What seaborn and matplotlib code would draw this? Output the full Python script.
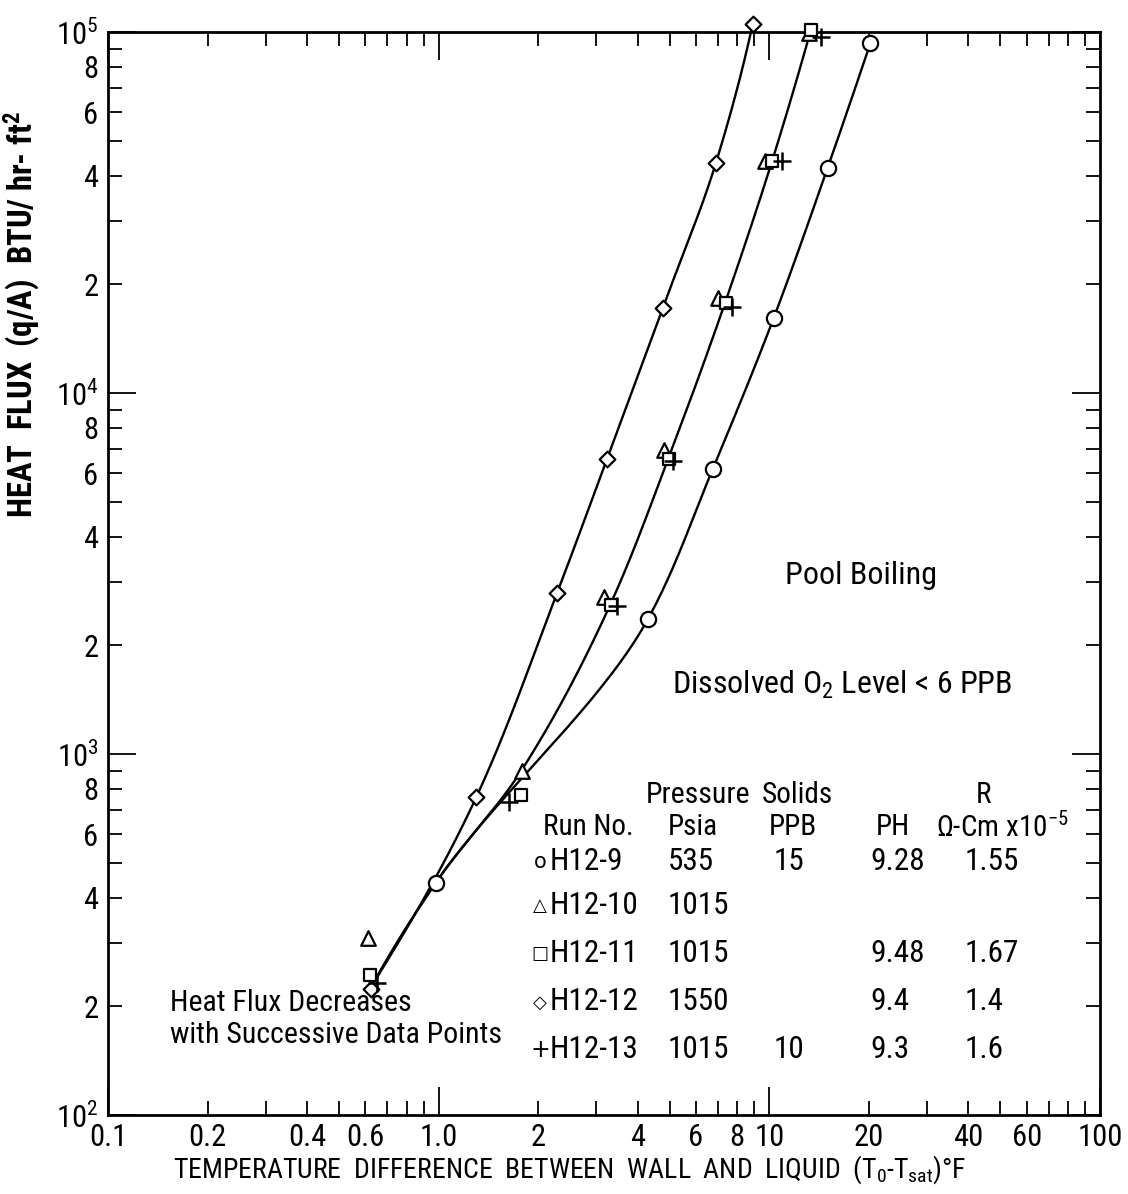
import numpy as np
import pandas as pd
import matplotlib
matplotlib.use("Agg")
import matplotlib.pyplot as plt
from matplotlib import font_manager as fm
import seaborn as sns
from matplotlib.ticker import FixedLocator, FuncFormatter

# ---- measured data: wall superheat dT (F) and heat flux q/A (BTU/hr-ft2) ----
runs = ["H12-9", "H12-10", "H12-11", "H12-12", "H12-13"]

dT_h12_9 = [0.98, 4.30, 6.74, 10.3, 15.0, 20.2]
q_h12_9 = [440, 2370, 6150, 16100, 42000, 93000]

dT_h12_10 = [0.61, 1.79, 3.16, 4.80, 6.99, 9.7, 13.2]
q_h12_10 = [310, 900, 2720, 6950, 18300, 44000, 99500]

dT_h12_11 = [0.62, 1.77, 3.32, 4.97, 7.39, 10.2, 13.4]
q_h12_11 = [244, 770, 2590, 6570, 17700, 44000, 101000]

dT_h12_12 = [0.625, 1.30, 2.28, 3.23, 4.76, 6.9, 8.9]
q_h12_12 = [223, 760, 2790, 6570, 17200, 43500, 105000]

dT_h12_13 = [0.65, 1.63, 3.46, 5.11, 7.71, 10.9, 14.3]
q_h12_13 = [232, 736, 2570, 6490, 17300, 44000, 97000]

# ---- faired curves (knots the hand-drawn lines pass through) ----
curve_a_dT = [0.64, 1.30, 2.28, 3.23, 4.76, 6.9, 8.9]
curve_a_q = [235, 760, 2790, 6570, 17200, 43500, 105000]

curve_b_dT = [0.64, 0.98, 1.78, 3.32, 4.97, 7.35, 10.2, 13.3]
curve_b_q = [235, 440, 900, 2620, 6650, 17800, 44000, 100000]

curve_c_dT = [0.64, 0.98, 4.30, 6.74, 10.3, 15.0, 20.2]
curve_c_q = [235, 440, 2370, 6150, 16100, 42000, 93000]

# ---- run table ----
tbl_marks = ["o", "\u25b3", "\u25a1", "\u25c7", "+"]
tbl_psia = ["535", "1015", "1015", "1550", "1015"]
tbl_ppb = ["15", "", "", "", "10"]
tbl_ph = ["9.28", "", "9.48", "9.4", "9.3"]
tbl_r = ["1.55", "", "1.67", "1.4", "1.6"]

x_labels = {0.1: "0.1", 0.2: "0.2", 0.4: "0.4", 0.6: "0.6", 1.0: "1.0", 2.0: "2",
            4.0: "4", 6.0: "6", 8.0: "8", 10.0: "10", 20.0: "20", 40.0: "40",
            60.0: "60", 100.0: "100"}

W, H = 1128, 1194

# pick a narrow sans face for the lettering if one is installed
installed = {f.name for f in fm.fontManager.ttflist}
face = "DejaVu Sans"
for cand in ["Roboto Condensed", "Liberation Sans Narrow", "DejaVu Sans Condensed",
             "Open Sans Condensed", "Liberation Sans", "Roboto"]:
    if cand in installed:
        face = cand
        break

sns.set_theme(style="ticks")
plt.rcParams["font.family"] = [face, "DejaVu Sans"]
plt.rcParams["mathtext.fontset"] = "custom"
plt.rcParams["mathtext.rm"] = face
plt.rcParams["mathtext.default"] = "regular"

frames = []
for run, xs, ys in zip(runs,
                       [dT_h12_9, dT_h12_10, dT_h12_11, dT_h12_12, dT_h12_13],
                       [q_h12_9, q_h12_10, q_h12_11, q_h12_12, q_h12_13]):
    frames.append(pd.DataFrame({"run": run, "dT": xs, "q": ys}))
df = pd.concat(frames, ignore_index=True)


def pchip_curve(xs, ys, n=40):
    """Monotone cubic through the knots: log(dT) as a function of log(q)."""
    u = np.log10(ys)
    v = np.log10(xs)
    h = np.diff(u)
    delta = np.diff(v) / h
    m = len(u)
    d = np.zeros(m)
    for k in range(1, m - 1):
        if delta[k - 1] * delta[k] <= 0:
            d[k] = 0.0
        else:
            w1 = 2 * h[k] + h[k - 1]
            w2 = h[k] + 2 * h[k - 1]
            d[k] = (w1 + w2) / (w1 / delta[k - 1] + w2 / delta[k])

    def end(h0, h1, d0, d1):
        e = ((2 * h0 + h1) * d0 - h0 * d1) / (h0 + h1)
        if np.sign(e) != np.sign(d0):
            e = 0.0
        elif np.sign(d0) != np.sign(d1) and abs(e) > abs(3 * d0):
            e = 3 * d0
        return e

    d[0] = end(h[0], h[1], delta[0], delta[1])
    d[-1] = end(h[-1], h[-2], delta[-1], delta[-2])
    uu, vv = [], []
    for k in range(m - 1):
        t = np.linspace(0, 1, n)
        if k < m - 2:
            t = t[:-1]
        h00 = 2 * t**3 - 3 * t**2 + 1
        h10 = t**3 - 2 * t**2 + t
        h01 = -2 * t**3 + 3 * t**2
        h11 = t**3 - t**2
        uu.append(u[k] + t * h[k])
        vv.append(h00 * v[k] + h10 * h[k] * d[k] + h01 * v[k + 1] + h11 * h[k] * d[k + 1])
    return 10 ** np.concatenate(vv), 10 ** np.concatenate(uu)


fig = plt.figure(figsize=(W / 100, H / 100), dpi=100)
ax = fig.add_axes([108 / W, (H - 1115) / H, (1100 - 108) / W, (1115 - 32) / H])
ax.set_xscale("log")
ax.set_yscale("log")
ax.set_xlim(0.1, 100)
ax.set_ylim(100, 1e5)

# faired lines
for cx, cy in [(curve_a_dT, curve_a_q), (curve_b_dT, curve_b_q), (curve_c_dT, curve_c_q)]:
    sx, sy = pchip_curve(cx, cy)
    sns.lineplot(x=sx, y=sy, sort=False, estimator=None, color="black",
                 linewidth=1.7, ax=ax, clip_on=False, zorder=2)

# data points
mk = {"H12-9": ("o", 120), "H12-10": ("^", 110), "H12-11": ("s", 85),
      "H12-12": ("D", 64), "H12-13": ("+", 150)}
for run in runs:
    m, s = mk[run]
    sub = df[df["run"] == run]
    if m == "+":
        sns.scatterplot(data=sub, x="dT", y="q", marker=m, s=s, color="black",
                        linewidth=1.8, ax=ax, clip_on=False, zorder=4, legend=False)
    else:
        sns.scatterplot(data=sub, x="dT", y="q", marker=m, s=s, facecolor="white",
                        edgecolor="black", linewidth=1.6, ax=ax, clip_on=False,
                        zorder=3, legend=False)

# axes, ticks
x_major = [0.1, 1, 10, 100]
x_minor = [k * 10.0 ** e for e in (-1, 0, 1) for k in range(2, 10)]
y_major = [1e2, 1e3, 1e4, 1e5]
y_minor = [k * 10.0 ** e for e in (2, 3, 4) for k in range(2, 10)]
ax.xaxis.set_major_locator(FixedLocator(x_major))
ax.xaxis.set_minor_locator(FixedLocator(x_minor))
ax.yaxis.set_major_locator(FixedLocator(y_major))
ax.yaxis.set_minor_locator(FixedLocator(y_minor))


def xfmt(v, pos):
    return x_labels.get(round(v, 3), "")


def yfmt_major(v, pos):
    return r"$10^{%d}$" % round(np.log10(v))


def yfmt_minor(v, pos):
    d = int(round(v / 10 ** np.floor(np.log10(v) + 1e-9)))
    return str(d) if d in (2, 4, 6, 8) else ""


ax.xaxis.set_major_formatter(FuncFormatter(xfmt))
ax.xaxis.set_minor_formatter(FuncFormatter(xfmt))
ax.yaxis.set_major_formatter(FuncFormatter(yfmt_major))
ax.yaxis.set_minor_formatter(FuncFormatter(yfmt_minor))

ax.tick_params(which="both", direction="in", top=True, right=True, color="black",
               labelcolor="black", labelsize=22, pad=6)
ax.tick_params(which="major", length=20, width=1.3)
ax.tick_params(which="minor", length=10, width=1.3)
ax.tick_params(axis="y", which="both", pad=7)
for sp in ax.spines.values():
    sp.set_linewidth(2.0)
    sp.set_color("black")
ax.set_xlabel("")
ax.set_ylabel("")


def ftext(px, py, s, size=19, ha="left", va="center", **kw):
    fig.text(px / W, 1 - py / H, s, size=size, ha=ha, va=va, color="black", **kw)


# axis titles
ftext(22, 315, "HEAT  FLUX  (q/A)  BTU/ hr- ft$^2$", size=23.5, ha="center",
      rotation=90, weight="bold")
ftext(570, 1170, "TEMPERATURE  DIFFERENCE  BETWEEN  WALL  AND  LIQUID  (T$_0$-T$_{sat}$)°F",
      size=20, ha="center")

# annotations
ftext(785, 575, "Pool Boiling", size=23)
ftext(672, 685, "Dissolved O$_2$ Level < 6 PPB", size=23)
ftext(170, 1003, "Heat Flux Decreases", size=21.5)
ftext(170, 1035, "with Successive Data Points", size=21.5)

# run table
ftext(646, 795, "Pressure", size=21.5)
ftext(762, 795, "Solids", size=21)
ftext(983, 795, "R", size=21, ha="center")
ftext(543, 827, "Run No.", size=21)
ftext(668, 827, "Psia", size=21)
ftext(793, 827, "PPB", size=21, ha="center")
ftext(876, 827, "PH", size=21)
ftext(936, 827, "\u03a9-Cm x10$^{-5}$", size=21)

row_y = [861, 905, 953, 1002, 1049]
mark_sizes = [15, 13, 13, 13, 17]
for i, run in enumerate(runs):
    y = row_y[i]
    ftext(540, y + 1, tbl_marks[i], size=mark_sizes[i], ha="center",
          family=["DejaVu Sans"])
    ftext(550, y, run, size=22.5)
    ftext(668, y, tbl_psia[i], size=22.5)
    ftext(789, y, tbl_ppb[i], size=22.5, ha="center")
    ftext(870, y, tbl_ph[i], size=22.5)
    ftext(965, y, tbl_r[i], size=22.5)

fig.savefig("out.png", dpi=100, facecolor="white")
